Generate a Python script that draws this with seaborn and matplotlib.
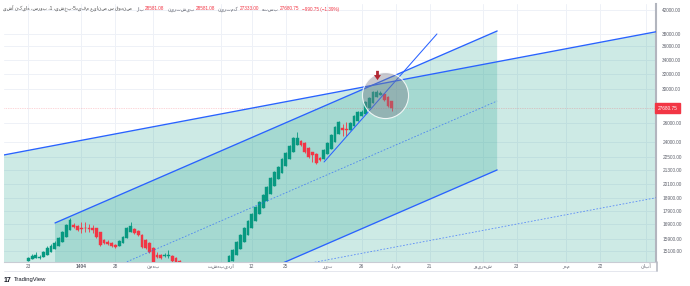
import matplotlib
matplotlib.use("Agg")
import matplotlib.pyplot as plt
from matplotlib.path import Path
from matplotlib.lines import Line2D
from matplotlib.transforms import blended_transform_factory
import seaborn as sns

# Heikin Ashi candles (one per trading day)
ha_open = [14471, 14595, 14657, 14657, 14719, 14845, 15035, 15226, 15421, 15686,
           16023, 16506, 16860, 16789, 16647, 16650, 16620, 16647, 16647, 16367,
           15820, 15686, 15620, 15487, 15421, 15620, 15955, 16367, 16577, 16437,
           16160, 15820, 15620, 15291, 14845, 14845, 14782, 14813, 14782, 14657,
           14500, 14250, 14000, 13800, 13600, 13480, 13380, 13420, 13470, 13560,
           13680, 13820, 13980, 14170, 14480, 14820, 15250, 15700, 16170, 16660,
           17160, 17680, 18140, 18650, 19230, 19900, 20510, 21040, 21680, 22290,
           22940, 23670, 24035, 23860, 23420, 22962, 22806, 22372, 22311, 22750,
           23320, 24015, 24790, 25451, 25346, 25273, 25637, 26210, 26727, 26985,
           27705, 28308, 28981, 29318, 29424, 29045, 28581.08]
ha_high = [14719, 14908, 15035, 14845, 15099, 15421, 15553, 15753, 16023, 16436,
           16932, 17369, 17005, 16860, 17077, 17077, 16932, 16860, 16647, 16367,
           15887, 15820, 15686, 15553, 15820, 16091, 16718, 17077, 16647, 16506,
           16229, 15887, 15686, 15356, 15035, 14908, 14971, 15163, 14845, 14719,
           14550, 14300, 14050, 13850, 13650, 13520, 13480, 13560, 13700, 13850,
           14000, 14200, 14400, 14845, 15226, 15753, 16229, 16718, 17222, 17742,
           18278, 18671, 19232, 19893, 20672, 21205, 21662, 22410, 22989, 23682,
           24503, 25028, 24189, 23986, 23482, 22989, 22900, 22500, 23283, 23986,
           24816, 25673, 26223, 25891, 26112, 26112, 26899, 27360, 27480, 28545,
           29035, 29781, 29908, 29781, 29530, 29100, 28581.08]
ha_low = [14471, 14595, 14657, 14595, 14719, 14845, 15035, 15226, 15421, 15686,
          16023, 16506, 16647, 16436, 16298, 16367, 16367, 16298, 15955, 15421,
          15553, 15487, 15356, 15323, 15421, 15620, 15955, 16367, 16229, 16091,
          15291, 15226, 14971, 14290, 14657, 14595, 14719, 14657, 14410, 14290,
          13900, 13700, 13500, 13350, 13250, 13200, 13300, 13420, 13470, 13560,
          13680, 13820, 13980, 14170, 14480, 14820, 15250, 15700, 16170, 16660,
          17160, 17680, 18140, 18650, 19230, 19900, 20510, 21040, 21680, 22290,
          22940, 23670, 23582, 22891, 22410, 22032, 21846, 22126, 22311, 22750,
          23320, 24015, 24790, 24607, 24607, 25273, 25637, 26210, 26727, 26985,
          27705, 28308, 28981, 29318, 28545, 27830, 27333.00]
ha_close = [14657, 14782, 14845, 14719, 15035, 15291, 15421, 15620, 15955, 16367,
            16860, 17222, 16718, 16506, 16577, 16620, 16600, 16506, 16023, 15487,
            15620, 15553, 15421, 15389, 15753, 16023, 16647, 16789, 16298, 16160,
            15356, 15291, 15035, 14410, 14719, 14657, 14845, 14845, 14471, 14350,
            14000, 13800, 13600, 13450, 13350, 13300, 13450, 13520, 13650, 13800,
            13950, 14150, 14350, 14782, 15163, 15686, 16160, 16647, 17152, 17667,
            18200, 18592, 19150, 19809, 20584, 21115, 21570, 22315, 22891, 23582,
            24399, 24399, 23682, 22989, 22505, 22650, 21939, 22250, 23185, 23884,
            24711, 25564, 26112, 25241, 25200, 26001, 26784, 27244, 27244, 28424,
            28912, 29655, 29655, 29530, 28665, 27946, 27680.75]

# time axis (bar index of each label)
x_tick_pos = [0, 14, 23, 33, 51, 59, 68, 79, 88, 97, 106, 120, 129, 142, 151, 163]
x_tick_labels = ["23", "1404", "28", "بهمن", "اردیبهشت", "12", "25", "تیر",
                 "26", "مرداد", "21", "شهریور", "23", "مهر", "22", "آبان"]
y_ticks = [15100, 15900, 16900, 17900, 18900, 20100, 21300, 22500, 24000,
           26000, 30000, 32000, 34000, 36000, 38000, 42000]

# drawings: anchor points as (bar index, price)
big_x = [-7, 166]
big_upper = [22659, 38321]
big_mid = [11200, 18943]
big_lower = [5535, 9362]

ch_x = [7.05, 123.8]
ch_upper = [17006, 38418]
ch_mid = [12634, 28543]
ch_lower = [9428, 21300]

trend_x = [78.1, 107.9]
trend_y = [22032, 37934]

circle_x, circle_y = 94.2, 29278
arrow_x, arrow_y = 92.1, 31874

last_price = 27680.75
header_name = "صندوق س صنایع مفید5-بخشی، 1، بورس، هایکن آشی"
header_items = [("باز", "28581.08"), ("بیشترین", "28581.08"),
                ("کمترین", "27333.00"), ("بسته", "27680.75")]
header_change = "−990.75 (−1.39%)"


def fa(s):
    # matplotlib has no bidi support: show Persian text right-to-left
    if not any('\u0600' <= ch <= '\u06ff' for ch in s):
        return s
    try:
        import arabic_reshaper
        from bidi.algorithm import get_display
        return get_display(arabic_reshaper.reshape(s))
    except ImportError:
        return s[::-1]


sns.set_theme(style="white")
plt.rcParams['font.family'] = ['Liberation Sans', 'DejaVu Sans']

GREEN = '#089981'
RED = '#f23645'
BLUE = '#2962ff'
GRAY = '#5d606b'

fig = plt.figure(figsize=(6.9, 2.86), dpi=100)
ax = fig.add_axes([4 / 690, 24 / 286, 652 / 690, 258 / 286])
ax.set_yscale('log')

# channel backgrounds
ax.fill_between(big_x, big_lower, big_upper, color=GREEN, alpha=0.2, lw=0, zorder=1)
ax.fill_between(ch_x, ch_lower, ch_upper, color=GREEN, alpha=0.2, lw=0, zorder=1)

# candles
idx = list(range(len(ha_open)))
cols = [GREEN if c >= o else RED for o, c in zip(ha_open, ha_close)]
ax.vlines(idx, ha_low, ha_high, colors=cols, lw=0.6, zorder=3)
ax.bar(idx, [abs(c - o) for o, c in zip(ha_open, ha_close)],
       bottom=[min(o, c) for o, c in zip(ha_open, ha_close)],
       width=0.74, color=cols, edgecolor=cols, linewidth=0.3, zorder=4)

# channel lines
sns.lineplot(x=big_x, y=big_upper, ax=ax, color=BLUE, linewidth=0.95, legend=False, zorder=5)
sns.lineplot(x=big_x, y=big_mid, ax=ax, color=BLUE, linewidth=0.6, alpha=0.7,
             linestyle=(0, (2, 2)), legend=False, zorder=5)
sns.lineplot(x=ch_x, y=ch_upper, ax=ax, color=BLUE, linewidth=0.95, legend=False, zorder=5)
sns.lineplot(x=ch_x, y=ch_lower, ax=ax, color=BLUE, linewidth=0.95, legend=False, zorder=5)
sns.lineplot(x=ch_x, y=ch_mid, ax=ax, color=BLUE, linewidth=0.6, alpha=0.7,
             linestyle=(0, (2, 2)), legend=False, zorder=5)
sns.lineplot(x=trend_x, y=trend_y, ax=ax, color=BLUE, linewidth=0.75, legend=False, zorder=5)

# last price line
ax.axhline(last_price, color=RED, lw=0.5, ls=(0, (1, 1.5)), alpha=0.4, zorder=2)

# highlight circle and arrow
ax.scatter([circle_x], [circle_y], s=1100, facecolor=(0.47, 0.48, 0.53, 0.4),
           edgecolor=(1, 1, 1, 0.85), linewidth=0.8, zorder=6)
arrow_marker = Path([(-0.3, 1), (0.3, 1), (0.3, 0.1), (0.75, 0.1), (0, -1),
                     (-0.75, 0.1), (-0.3, 0.1), (-0.3, 1)],
                    [Path.MOVETO] + [Path.LINETO] * 6 + [Path.CLOSEPOLY])
ax.scatter([arrow_x], [arrow_y], marker=arrow_marker, s=45, color='#b22833', lw=0, zorder=7)

# axes
ax.set_xlim(-6.42, 165.75)
ax.set_ylim(14410, 43080)
ax.set_xlabel('')
ax.set_ylabel('')
ax.yaxis.tick_right()
ax.set_yticks(y_ticks)
ax.set_yticklabels([f"{v:.2f}" for v in y_ticks])
ax.yaxis.set_minor_locator(plt.NullLocator())
ax.set_xticks(x_tick_pos)
ax.set_xticklabels([fa(s) for s in x_tick_labels])
for lbl in ax.get_xticklabels():
    if lbl.get_text() == "1404":
        lbl.set_fontweight('bold')
ax.tick_params(axis='both', length=0, labelsize=3.4, colors=GRAY)
ax.tick_params(axis='y', pad=4.5)
ax.tick_params(axis='x', pad=1.5)
ax.grid(True, color='#eef1f7', lw=0.7, zorder=0)
ax.set_axisbelow(True)
for side in ('top', 'left'):
    ax.spines[side].set_visible(False)
ax.spines['right'].set_color('#b2b5be')
ax.spines['right'].set_linewidth(1.5)
ax.spines['bottom'].set_color('#c9ccd4')
ax.spines['bottom'].set_linewidth(0.8)
fig.add_artist(Line2D([4 / 690, 657 / 690], [1 - 271 / 286] * 2, color='#e0e3eb', lw=0.6))
fig.add_artist(Line2D([656.5 / 690] * 2, [1 - 271 / 286, 1 - 262 / 286], color='#b2b5be', lw=1.1))

# last price tag
tag = blended_transform_factory(ax.transAxes, ax.transData)
ax.text(1.0025, last_price, f"{last_price:.2f}", transform=tag, ha='left', va='center',
        fontsize=3.4, color='white', clip_on=False, zorder=10,
        bbox=dict(boxstyle='square,pad=0.55', fc=RED, ec=RED))

# legend line at the top
renderer = fig.canvas.get_renderer()
xpos = 3
pieces = [(fa(header_name), '#4a4a4a', 4)]
for label, value in header_items:
    pieces.append((fa(label), GRAY, 1))
    pieces.append((value, RED, 3))
pieces.append((header_change, RED, 0))
for text, color, gap in pieces:
    t = fig.text(xpos / 690, 1 - 9 / 286, text, color=color, fontsize=3.3,
                 ha='left', va='center')
    xpos = t.get_window_extent(renderer).x1 + gap

# TradingView mark
fig.text(4 / 690, 1 - 280 / 286, "17", fontsize=5, fontweight='bold', color='#131722', va='center')
fig.text(14 / 690, 1 - 280 / 286, "TradingView", fontsize=4.2, color='#131722', va='center')

fig.savefig("out.png", dpi=100)
